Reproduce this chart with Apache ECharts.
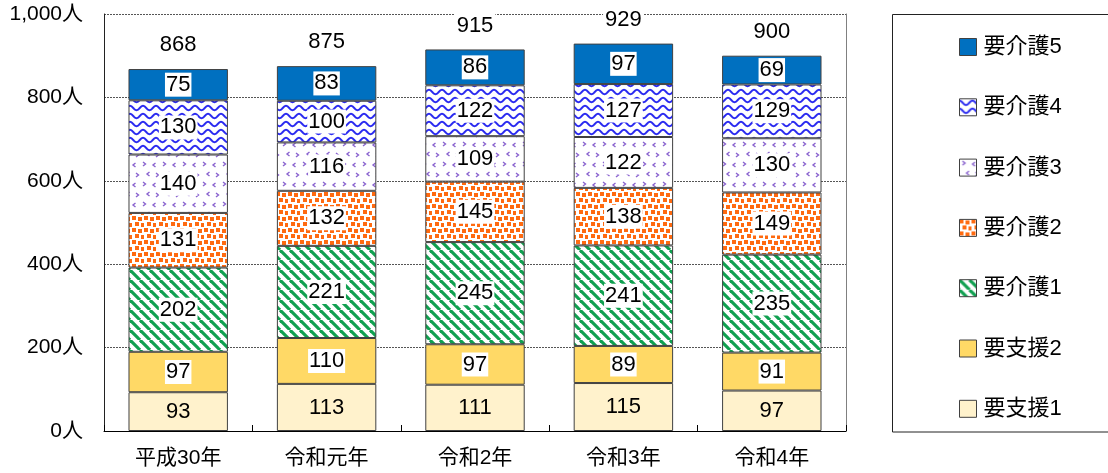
<!DOCTYPE html>
<html>
<head>
<meta charset="utf-8">
<script src="https://cdn.jsdelivr.net/npm/echarts@6/dist/echarts.min.js"></script>
<style>
  html, body { margin: 0; padding: 0; background: #fff; }
  #chart { width: 1108px; height: 473px; }
</style>
</head>
<body>
<div id="chart"></div>
<script>
// 要介護（要支援）認定者数の推移
const years = ['平成30年', '令和元年', '令和2年', '令和3年', '令和4年'];
const shien1 = [93, 113, 111, 115, 97];
const shien2 = [97, 110, 97, 89, 91];
const kaigo1 = [202, 221, 245, 241, 235];
const kaigo2 = [131, 132, 145, 138, 149];
const kaigo3 = [140, 116, 109, 122, 130];
const kaigo4 = [130, 100, 122, 127, 129];
const kaigo5 = [75, 83, 86, 97, 69];
const yTicks = [0, 200, 400, 600, 800, 1000];

const FONT = "'Liberation Sans', 'Noto Sans CJK JP', sans-serif";

// --- fill patterns -------------------------------------------------------
function tile(w, h, draw) {
  const c = document.createElement('canvas');
  c.width = w; c.height = h;
  const ctx = c.getContext('2d');
  ctx.fillStyle = '#fff';
  ctx.fillRect(0, 0, w, h);
  draw(ctx, w, h);
  return { image: c, repeat: 'repeat' };
}

const wavePattern = tile(13, 8, (ctx, w, h) => {
  ctx.strokeStyle = '#2a2af0';
  ctx.lineWidth = 1.9;
  ctx.beginPath();
  for (let x = -1; x <= w + 1; x += 0.5) {
    const y = 4 - 2.2 * Math.cos(2 * Math.PI * x / w);
    if (x === -1) ctx.moveTo(x, y); else ctx.lineTo(x, y);
  }
  ctx.stroke();
});

const chevronPattern = tile(20, 20, (ctx) => {
  ctx.strokeStyle = '#8a63cf';
  ctx.lineWidth = 1.4;
  const gt = (x, y) => { ctx.beginPath(); ctx.moveTo(x, y); ctx.lineTo(x + 2.5, y + 2); ctx.lineTo(x, y + 4); ctx.stroke(); };
  const lt = (x, y) => { ctx.beginPath(); ctx.moveTo(x + 2.5, y); ctx.lineTo(x, y + 2); ctx.lineTo(x + 2.5, y + 4); ctx.stroke(); };
  gt(3, 2);
  lt(13, 3);
  lt(7, 12);
  gt(16, 13);
});

const dotPattern = tile(12, 12, (ctx) => {
  ctx.fillStyle = '#ff6a10';
  const s = 4;
  [[0, 0], [6, 1], [3, 6], [9, 7]].forEach(([x, y]) => ctx.fillRect(x, y, s, s));
});

const stripePattern = tile(10, 10, (ctx, w, h) => {
  ctx.strokeStyle = '#10a050';
  ctx.lineWidth = 3.2;
  [-w, 0, w].forEach(o => {
    ctx.beginPath();
    ctx.moveTo(o, 0);
    ctx.lineTo(o + w, h);
    ctx.stroke();
  });
});

// --- series --------------------------------------------------------------
const totals = years.map((_, i) =>
  shien1[i] + shien2[i] + kaigo1[i] + kaigo2[i] + kaigo3[i] + kaigo4[i] + kaigo5[i]);

function layer(name, data, color, boxed) {
  return {
    name, type: 'bar', stack: 'total', data,
    barWidth: '67%',
    itemStyle: { color, borderColor: '#404040', borderWidth: 1 },
    label: {
      show: true, position: 'inside', color: '#000',
      fontSize: 22, fontFamily: FONT,
      backgroundColor: boxed ? '#fff' : 'transparent',
      padding: [1, 1]
    },
    emphasis: { disabled: true }
  };
}

const series = [
  layer('要支援1', shien1, '#fff2cc', false),
  layer('要支援2', shien2, '#ffd966', true),
  layer('要介護1', kaigo1, stripePattern, true),
  layer('要介護2', kaigo2, dotPattern, true),
  layer('要介護3', kaigo3, chevronPattern, true),
  layer('要介護4', kaigo4, wavePattern, true),
  layer('要介護5', kaigo5, '#0070c0', true),
  {
    name: '合計', type: 'bar', stack: 'total',
    data: totals.map(() => 0),
    itemStyle: { color: 'transparent', borderWidth: 0 },
    label: {
      show: true, position: 'top', distance: 12,
      color: '#000', fontSize: 22, fontFamily: FONT,
      backgroundColor: '#fff', padding: [1, 2],
      formatter: p => totals[p.dataIndex]
    },
    silent: true
  }
];

const chart = echarts.init(document.getElementById('chart'), null, { renderer: 'canvas' });
chart.setOption({
  animation: false,
  backgroundColor: '#fff',
  textStyle: { fontFamily: FONT },
  grid: { left: 104, right: 262, top: 14, bottom: 42 },
  graphic: [{
    type: 'rect',
    shape: { x: 892.5, y: 14.5, width: 230, height: 417.5 },
    style: { fill: 'none', stroke: '#222', lineWidth: 1 },
    z: -1
  }],
  legend: {
    data: ['要介護5', '要介護4', '要介護3', '要介護2', '要介護1', '要支援2', '要支援1'],
    orient: 'vertical',
    left: 954, top: 31,
    itemWidth: 17, itemHeight: 17,
    itemGap: 38.3,
    icon: 'rect',
    itemStyle: { borderColor: '#404040', borderWidth: 1 },
    textStyle: { fontSize: 22, color: '#000', fontFamily: FONT, padding: [0, 0, 0, 2] },
    selectedMode: false
  },
  xAxis: {
    type: 'category', data: years,
    axisLine: { lineStyle: { color: '#000', width: 1 } },
    axisTick: { show: true, inside: true, length: 6, lineStyle: { color: '#000' } },
    axisLabel: { color: '#000', fontSize: 21, fontFamily: FONT, margin: 17 }
  },
  yAxis: [{
    type: 'value', min: yTicks[0], max: yTicks[yTicks.length - 1], interval: yTicks[1] - yTicks[0],
    axisLine: { show: true, lineStyle: { color: '#222' } },
    axisTick: { show: false },
    axisLabel: {
      color: '#000', fontSize: 21, fontFamily: FONT, margin: 21,
      formatter: v => v.toLocaleString('en-US') + '人'
    },
    splitLine: { show: true, lineStyle: { color: '#555', type: [2, 1], width: 1 } }
  }, {
    type: 'value', position: 'right', min: yTicks[0], max: yTicks[yTicks.length - 1],
    interval: yTicks[1] - yTicks[0],
    axisLine: { show: true, lineStyle: { color: '#808080' } },
    axisTick: { show: false }, axisLabel: { show: false }, splitLine: { show: false }
  }],
  series
});
</script>
</body>
</html>
